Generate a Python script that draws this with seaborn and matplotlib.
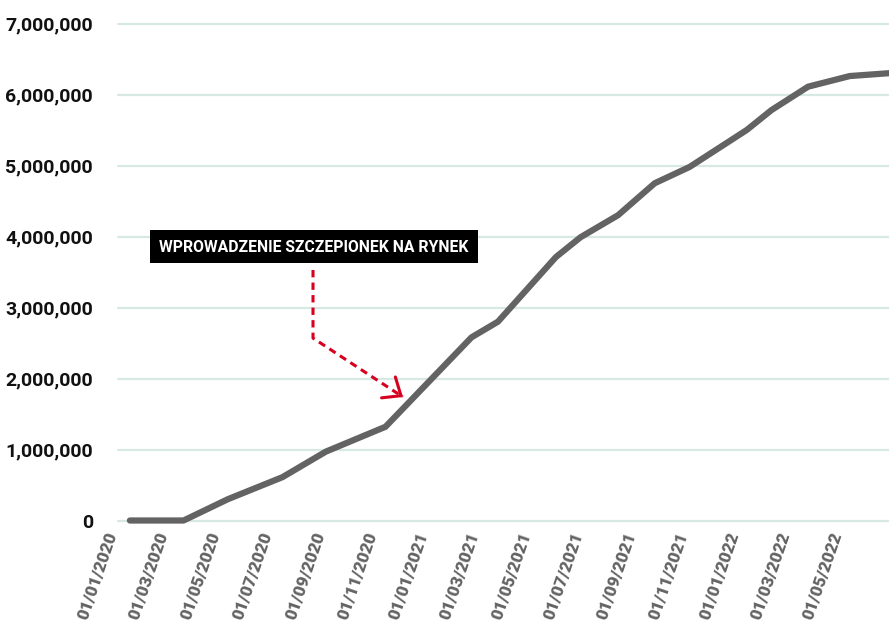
import matplotlib
matplotlib.use("Agg")
import matplotlib.pyplot as plt
import seaborn as sns
import pandas as pd
from matplotlib.patches import Rectangle

# ---- data ----
dates = ['2020-01-22', '2020-03-25', '2020-05-16', '2020-07-19', '2020-09-08',
         '2020-11-17', '2021-02-26', '2021-03-29', '2021-06-05', '2021-07-04',
         '2021-08-17', '2021-09-29', '2021-11-09', '2022-01-15', '2022-02-13',
         '2022-03-28', '2022-05-16', '2022-07-01']
values = [0, 0, 300000, 610000, 970000,
          1320000, 2580000, 2800000, 3710000, 3990000,
          4300000, 4750000, 4980000, 5500000, 5780000,
          6110000, 6260000, 6300000]

x_labels = ['01/01/2020', '01/03/2020', '01/05/2020', '01/07/2020', '01/09/2020',
            '01/11/2020', '01/01/2021', '01/03/2021', '01/05/2021', '01/07/2021',
            '01/09/2021', '01/11/2021', '01/01/2022', '01/03/2022', '01/05/2022']
y_ticks = [0, 1000000, 2000000, 3000000, 4000000, 5000000, 6000000, 7000000]
y_labels = ['0', '1,000,000', '2,000,000', '3,000,000', '4,000,000',
            '5,000,000', '6,000,000', '7,000,000']
annotation_text = 'WPROWADZENIE SZCZEPIONEK NA RYNEK'

# ---- style ----
sns.set_theme(style='white')
plt.rcParams['font.family'] = ['Roboto', 'DejaVu Sans']

W, H = 889, 623
fig = plt.figure(figsize=(W / 100, H / 100), dpi=100)
ax = fig.add_axes([112 / W, (H - 520.5) / H, 777 / W, 497 / H])

df = pd.DataFrame({'date': pd.to_datetime(dates), 'value': values})
sns.lineplot(data=df, x='date', y='value', ax=ax, color='#636363',
             linewidth=4.5, solid_capstyle='round', solid_joinstyle='round',
             clip_on=False, zorder=3)

ax.set_xlim(pd.Timestamp('2020-01-01'), pd.Timestamp('2022-07-01'))
ax.set_ylim(0, 7000000)

for y in y_ticks:
    ax.axhline(y, xmin=6 / 777, xmax=1, color='#d6e9e3', lw=1.6,
               zorder=1, clip_on=False)

ax.set_yticks(y_ticks)
ax.set_yticklabels(y_labels, fontsize=14, fontweight='bold', color='#111111')
ax.set_xticks(pd.to_datetime(x_labels, format='%d/%m/%Y'))
ax.set_xticklabels(x_labels, rotation=71, ha='right', va='center',
                   rotation_mode='anchor', fontsize=12.3, fontweight='heavy',
                   color='#636363')
ax.tick_params(axis='both', length=0)
ax.tick_params(axis='y', pad=13.7)
ax.tick_params(axis='x', pad=9)
for s in ax.spines.values():
    s.set_visible(False)
ax.set_xlabel('')
ax.set_ylabel('')

# ---- annotation box ----
ax.add_patch(Rectangle((0.0489, 0.518), 0.4221, 0.0665, transform=ax.transAxes,
                       facecolor='black', edgecolor='none', clip_on=False,
                       zorder=4))
ax.text(0.2600, 0.5396, annotation_text, transform=ax.transAxes,
        ha='center', va='baseline', color='white', fontsize=11.3,
        fontweight='bold', zorder=5)

# ---- red dashed arrow ----
red = '#d7001e'
ax.plot([0.2587, 0.2587, 0.3745], [0.504, 0.367, 0.2485],
        transform=ax.transAxes, color=red, lw=2.2, dashes=(2.4, 1.7),
        clip_on=False, zorder=4)
ax.annotate('', xy=(0.3745, 0.2485), xytext=(0.3713, 0.2518),
            xycoords='axes fraction', textcoords='axes fraction',
            arrowprops=dict(arrowstyle='->,head_length=0.9,head_width=0.75',
                            color=red, lw=2.2, shrinkA=0, shrinkB=0),
            zorder=4)

fig.savefig('out.png', dpi=100)
